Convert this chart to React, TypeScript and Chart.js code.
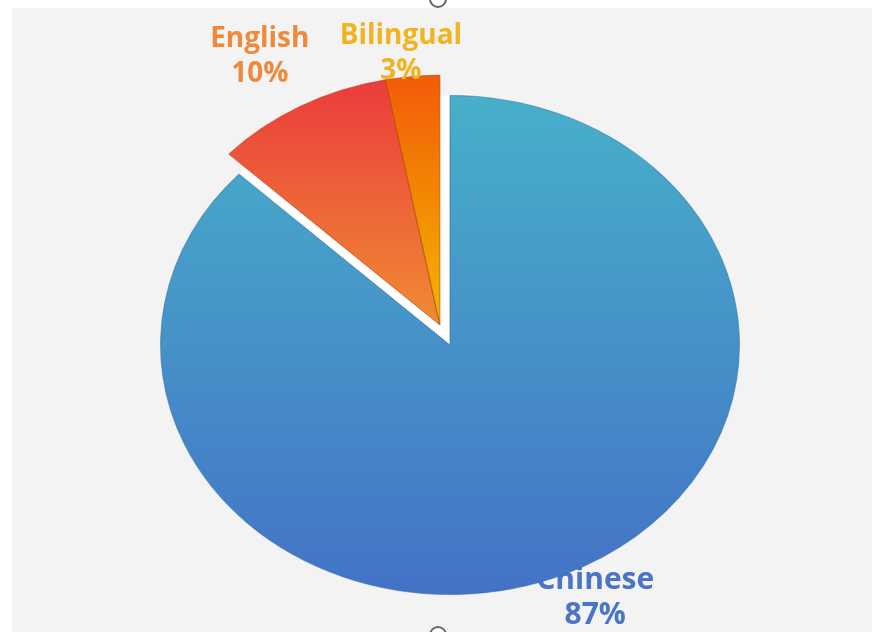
import React, { useEffect, useRef } from 'react';
import { Chart, ArcElement, PieController } from 'chart.js';

Chart.register(ArcElement, PieController);

// ---- data ----
const categories = ['Chinese', 'English', 'Bilingual'];
const shares = [87, 10, 3];
const shareLabels = ['87%', '10%', '3%'];

// ---- styling ----
const W = 872;
const H = 632;
const SX = 1.16; // horizontal stretch of the pie (ellipse)
const EXPLODE = 22; // exploded group distance
const EXPLODED = [1, 2];
const GRADIENTS = [
  ['#47b0ca', '#4472c6'],
  ['#ea3a3c', '#f08c32'],
  ['#f25a08', '#f4b600'],
];
const BORDERS = ['rgba(45,110,165,0.55)', 'rgba(170,60,20,0.55)', 'rgba(170,80,0,0.6)'];
const LABEL_COLORS = ['#4a74c6', '#ef8a3c', '#f0b422'];
const LABEL_EXT = [31, 62, 25];
const LABEL_NUDGE = [
  [16, -7],
  [-6, 3],
  [-9, 0],
];
const FONT_SIZES = [30, 28, 28];
const LINE_GAP = 35;

function labelPoint(chart: any, i: number) {
  const meta = chart.getDatasetMeta(0);
  const el: any = meta.data[i];
  const base: any = meta.data[0];
  const cx = base.x;
  const mid = (el.startAngle + el.endAngle) / 2;
  const d = el.outerRadius + LABEL_EXT[i];
  const px = el.x + Math.cos(mid) * d;
  const py = el.y + Math.sin(mid) * d;
  return [cx + (px - cx) * SX + LABEL_NUDGE[i][0], py + LABEL_NUDGE[i][1]];
}

function drawLabel(chart: any, i: number) {
  const ctx = chart.ctx;
  const [x, y] = labelPoint(chart, i);
  const size = FONT_SIZES[i];
  const capHalf = size * 0.357;
  ctx.save();
  ctx.font = `bold ${size}px "Open Sans"`;
  ctx.fillStyle = LABEL_COLORS[i];
  ctx.textAlign = 'center';
  ctx.textBaseline = 'alphabetic';
  ctx.fillText(categories[i], x, y - LINE_GAP / 2 + capHalf);
  ctx.fillText(shareLabels[i], x, y + LINE_GAP / 2 + capHalf);
  ctx.restore();
}

const ellipsePlugin = {
  id: 'ellipsePie',
  afterDatasetUpdate(chart: any, args: any) {
    const meta = args.meta;
    const first: any = meta.data[EXPLODED[0]];
    const last: any = meta.data[EXPLODED[EXPLODED.length - 1]];
    if (!first || !last) return;
    const mid = (first.startAngle + last.endAngle) / 2;
    const dx = Math.cos(mid) * EXPLODE;
    const dy = Math.sin(mid) * EXPLODE;
    EXPLODED.forEach((i) => {
      const el: any = meta.data[i];
      el.x += dx;
      el.y += dy;
    });
  },
  beforeDatasetsDraw(chart: any) {
    const ctx = chart.ctx;
    // Chinese label sits beneath the pie
    drawLabel(chart, 0);
    const meta = chart.getDatasetMeta(0);
    const base: any = meta.data[0];
    const cx = base.x;
    ctx.save();
    ctx.translate(cx, 0);
    ctx.scale(SX, 1);
    ctx.translate(-cx, 0);
    // white gap behind the exploded group
    const s = (meta.data[EXPLODED[0]] as any).startAngle;
    const e = (meta.data[EXPLODED[EXPLODED.length - 1]] as any).endAngle;
    ctx.beginPath();
    ctx.moveTo(base.x, base.y);
    ctx.arc(base.x, base.y, base.outerRadius, s, e);
    ctx.closePath();
    ctx.fillStyle = '#ffffff';
    ctx.fill();
  },
  afterDatasetsDraw(chart: any) {
    chart.ctx.restore();
    drawLabel(chart, 1);
    drawLabel(chart, 2);
  },
};

export default function App() {
  const ref = useRef<HTMLCanvasElement | null>(null);

  useEffect(() => {
    document.body.style.margin = '0';
    const canvas = ref.current;
    if (!canvas) return;
    const chart = new Chart(canvas, {
      type: 'pie',
      data: {
        labels: categories,
        datasets: [
          {
            data: shares,
            clip: false,
            borderWidth: 1,
            borderColor: BORDERS,
            backgroundColor: (c: any) => {
              const chart = c.chart;
              const a = chart.chartArea;
              const i = c.dataIndex;
              if (!a) return GRADIENTS[i][0];
              const shift = EXPLODED.includes(i) ? EXPLODE : 0;
              const top = a.top - shift;
              const bottom = i === 0 ? a.bottom : (a.top + a.bottom) / 2 - shift * 0.9;
              const g = chart.ctx.createLinearGradient(0, top, 0, bottom);
              g.addColorStop(0, GRADIENTS[i][0]);
              g.addColorStop(1, GRADIENTS[i][1]);
              return g;
            },
          } as any,
        ],
      },
      options: {
        responsive: false,
        animation: false,
        devicePixelRatio: 1,
        events: [],
        layout: { padding: { top: 95, bottom: 37, left: 200, right: 172 } },
        plugins: {
          legend: { display: false },
          tooltip: { enabled: false },
        },
      } as any,
      plugins: [ellipsePlugin],
    });
    return () => chart.destroy();
  }, []);

  const handle: React.CSSProperties = {
    position: 'absolute',
    left: 429,
    width: 14,
    height: 14,
    borderRadius: '50%',
    border: '2px solid #666',
    background: '#fff',
  };

  return (
    <div style={{ position: 'fixed', left: 0, top: 0, width: W, height: H, background: '#ffffff', overflow: 'hidden' }}>
      <div style={{ position: 'absolute', left: 12, top: 8, width: W - 12, height: H - 8, background: '#f3f3f3' }} />
      <canvas ref={ref} width={W} height={H} style={{ position: 'absolute', left: 0, top: 0, width: W, height: H }} />
      <div style={{ ...handle, top: -10 }} />
      <div style={{ ...handle, top: 626 }} />
    </div>
  );
}
